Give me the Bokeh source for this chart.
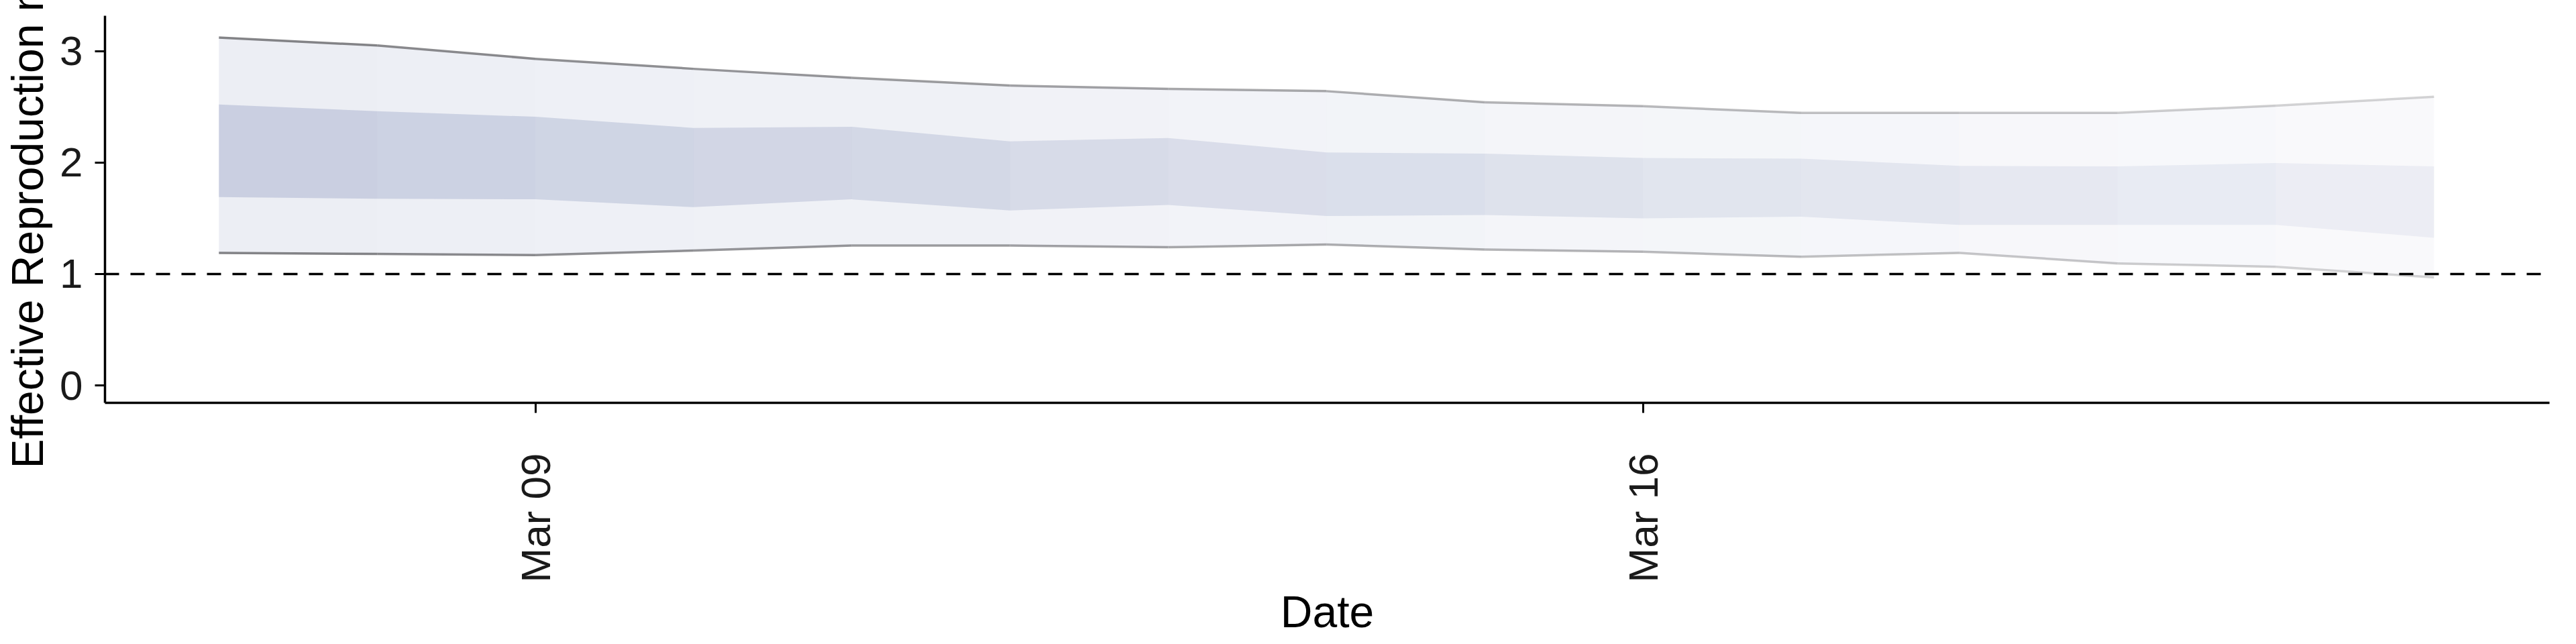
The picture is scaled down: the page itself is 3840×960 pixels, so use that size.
import datetime as dt
from bokeh.plotting import figure
from bokeh.models import Range1d, FixedTicker, DatetimeTickFormatter, Span
from bokeh.embed import file_html
from bokeh.resources import INLINE

dates = [dt.datetime(2020, 3, d) for d in range(7, 22)]
upper90 = [3.12, 3.05, 2.93, 2.84, 2.76, 2.69, 2.66, 2.64, 2.54, 2.505, 2.445, 2.445, 2.445, 2.51, 2.59]
upper50 = [2.52, 2.46, 2.41, 2.31, 2.32, 2.19, 2.22, 2.09, 2.08, 2.04, 2.035, 1.97, 1.965, 1.995, 1.965]
lower50 = [1.69, 1.675, 1.67, 1.60, 1.67, 1.57, 1.62, 1.52, 1.53, 1.50, 1.515, 1.44, 1.44, 1.44, 1.325]
lower90 = [1.19, 1.18, 1.17, 1.21, 1.255, 1.255, 1.24, 1.265, 1.22, 1.20, 1.155, 1.19, 1.095, 1.065, 0.97]
tick_dates = [dt.datetime(2020, 3, 9), dt.datetime(2020, 3, 16)]

FONT = "Liberation Sans"
W, H = 3824, 952
p = figure(width=W, height=H, output_backend="svg", toolbar_location=None,
           x_axis_type="datetime",
           min_border_left=156, min_border_right=24, min_border_top=23, min_border_bottom=347)
day = 86400000.0
t9 = dt.datetime(2020, 3, 9).timestamp() * 1000
p.x_range = Range1d(t9 - 2.72 * day, t9 + 12.73 * day)
p.y_range = Range1d(-0.155, 3.316)

base = "#4b5f9b"
n = len(dates) - 1
for i in range(n):
    f = 1.0 - 0.65 * i / (n - 1)
    xs = dates[i:i + 2]
    p.varea(x=xs, y1=lower90[i:i + 2], y2=upper90[i:i + 2], fill_color=base, fill_alpha=0.106 * f)
    p.varea(x=xs, y1=lower50[i:i + 2], y2=upper50[i:i + 2], fill_color=base, fill_alpha=0.21 * f)
    p.line(x=xs, y=upper90[i:i + 2], line_color="#6e6e72", line_alpha=0.85 * f, line_width=3.5)
    p.line(x=xs, y=lower90[i:i + 2], line_color="#6e6e72", line_alpha=0.85 * f, line_width=3.5)

p.add_layout(Span(location=1, dimension="width", line_color="black", line_width=3.5, line_dash="21 17"))

p.grid.visible = False
p.outline_line_color = None
p.background_fill_color = "white"

p.xaxis.ticker = FixedTicker(ticks=[d.timestamp() * 1000 for d in tick_dates])
p.xaxis.formatter = DatetimeTickFormatter(days="%b %d", months="%b %d", hours="%b %d")
p.xaxis.major_label_orientation = 1.5708
p.yaxis.ticker = FixedTicker(ticks=[0, 1, 2, 3])
for ax in (p.xaxis, p.yaxis):
    ax.axis_line_width = 3.5
    ax.axis_line_color = "black"
    ax.major_tick_line_width = 3
    ax.major_tick_line_color = "black"
    ax.major_tick_out = 15
    ax.major_tick_in = 0
    ax.minor_tick_line_color = None
    ax.major_label_text_font = FONT
    ax.major_label_text_font_size = "62px"
    ax.major_label_text_color = "#1a1a1a"
    ax.axis_label_text_font = FONT
    ax.axis_label_text_font_size = "66px"
    ax.axis_label_text_font_style = "normal"
    ax.axis_label_text_color = "black"
p.xaxis.major_label_standoff = 60
p.yaxis.major_label_standoff = 18
p.xaxis.axis_label = "Date"
p.yaxis.axis_label = "Effective Reproduction no."
p.xaxis.axis_label_standoff = 4
p.yaxis.axis_label_standoff = 8

open("out.html", "w").write(file_html(p, INLINE))
